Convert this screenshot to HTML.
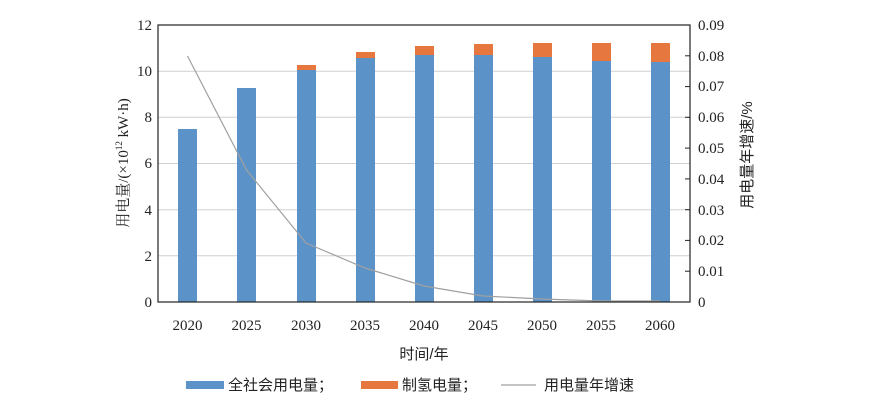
<!DOCTYPE html>
<html><head><meta charset="utf-8"><style>
html,body{margin:0;padding:0;background:#fff;width:879px;height:405px;overflow:hidden}
text{font-family:"Liberation Serif","Noto Serif CJK SC",serif;fill:#222}
.c{font-family:"Liberation Sans","Noto Sans CJK SC",sans-serif}
</style></head><body>
<svg width="879" height="405" viewBox="0 0 879 405" xmlns="http://www.w3.org/2000/svg">
<g stroke="#d0d0d0" stroke-width="1">
<line x1="158" y1="71.2" x2="690" y2="71.2"/>
<line x1="158" y1="117.3" x2="690" y2="117.3"/>
<line x1="158" y1="163.5" x2="690" y2="163.5"/>
<line x1="158" y1="209.7" x2="690" y2="209.7"/>
<line x1="158" y1="255.8" x2="690" y2="255.8"/>
</g>
<g fill="#5b93c9">
<rect x="178" y="129" width="19" height="173"/>
<rect x="237" y="88" width="19" height="214"/>
<rect x="297" y="70" width="19" height="232"/>
<rect x="356" y="58" width="19" height="244"/>
<rect x="415" y="55" width="19" height="247"/>
<rect x="474" y="55" width="19" height="247"/>
<rect x="533" y="57" width="19" height="245"/>
<rect x="592" y="61" width="19" height="241"/>
<rect x="651" y="62" width="19" height="240"/>
</g>
<g fill="#e5773f">
<rect x="297" y="65" width="19" height="5"/>
<rect x="356" y="52" width="19" height="6"/>
<rect x="415" y="46" width="19" height="9"/>
<rect x="474" y="44" width="19" height="11"/>
<rect x="533" y="43" width="19" height="14"/>
<rect x="592" y="43" width="19" height="18"/>
<rect x="651" y="43" width="19" height="19"/>
</g>
<polyline fill="none" stroke="#a0a0a0" stroke-width="1.2" points="187.5,56 246.5,170 306,243 365,268 424,286 483,296 542,299 601,301 660,301"/>
<rect x="158" y="25" width="532" height="277" fill="none" stroke="#222" stroke-width="1.2"/>
<g stroke="#222" stroke-width="1">
<line x1="685" y1="55.8" x2="690" y2="55.8"/><line x1="685" y1="86.6" x2="690" y2="86.6"/>
<line x1="685" y1="117.3" x2="690" y2="117.3"/><line x1="685" y1="148.1" x2="690" y2="148.1"/>
<line x1="685" y1="178.9" x2="690" y2="178.9"/><line x1="685" y1="209.7" x2="690" y2="209.7"/>
<line x1="685" y1="240.4" x2="690" y2="240.4"/><line x1="685" y1="271.2" x2="690" y2="271.2"/>
</g>
<g font-size="15" text-anchor="end">
<text x="152" y="30">12</text><text x="152" y="76">10</text><text x="152" y="122">8</text>
<text x="152" y="168">6</text><text x="152" y="215">4</text><text x="152" y="261">2</text><text x="152" y="307">0</text>
</g>
<g font-size="15">
<text x="698" y="30">0.09</text><text x="698" y="61">0.08</text><text x="698" y="91">0.07</text>
<text x="698" y="122">0.06</text><text x="698" y="153">0.05</text><text x="698" y="184">0.04</text>
<text x="698" y="215">0.03</text><text x="698" y="245">0.02</text><text x="698" y="276">0.01</text><text x="698" y="307">0</text>
</g>
<g font-size="15" text-anchor="middle">
<text x="187.5" y="330">2020</text><text x="246.5" y="330">2025</text><text x="306" y="330">2030</text>
<text x="365" y="330">2035</text><text x="424" y="330">2040</text><text x="483" y="330">2045</text>
<text x="542" y="330">2050</text><text x="601" y="330">2055</text><text x="660" y="330">2060</text>
</g>
<text x="424" y="359" font-size="15" text-anchor="middle" class="c">时间/年</text>
<text transform="translate(128,163) rotate(-90)" font-size="15" text-anchor="middle">用电量/(×10<tspan font-size="9" dy="-6">12</tspan><tspan dy="6"> kW·h)</tspan></text>
<text transform="translate(752,155) rotate(-90)" font-size="15" text-anchor="middle" class="c">用电量年增速/%</text>
<rect x="186" y="381" width="38" height="8" fill="#5b93c9"/>
<text x="228" y="390" font-size="15" class="c">全社会用电量；</text>
<rect x="361" y="381" width="37" height="8" fill="#e5773f"/>
<text x="402" y="390" font-size="15" class="c">制氢电量；</text>
<line x1="501" y1="385" x2="536" y2="385" stroke="#a0a0a0" stroke-width="1.2"/>
<text x="544" y="390" font-size="15" class="c">用电量年增速</text>
</svg>
</body></html>
